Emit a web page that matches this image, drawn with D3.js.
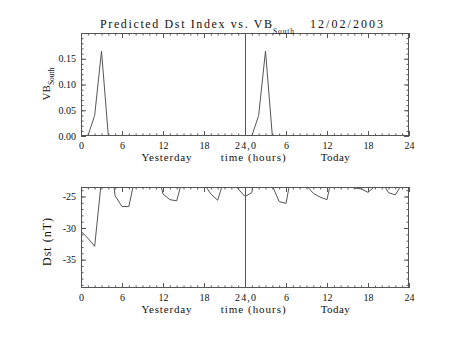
<!DOCTYPE html>
<html><head><meta charset="utf-8">
<script src="https://cdn.jsdelivr.net/npm/d3@7"></script>
<style>
html,body{margin:0;padding:0;background:#fff;}
svg text{font-family:"Liberation Serif","DejaVu Serif",serif;fill:#111;}
</style></head>
<body>
<svg id="chart" width="453" height="340"></svg>
<script>
// ---- data ----
const hours = d3.range(0, 48);
const vbSouth = [0, 0, 0.04, 0.165, 0, 0, 0, 0, 0, 0, 0, 0,
                 0, 0, 0, 0, 0, 0, 0, 0, 0, 0, 0, 0,
                 0, 0, 0.04, 0.165, 0, 0, 0, 0, 0, 0, 0, 0,
                 0, 0, 0, 0, 0, 0, 0, 0, 0, 0, 0, 0];
const dst = [-30.5, -31.6, -32.9, -22.3, -17.0, -24.9, -26.6, -26.6, -21.5, -21.0, -20.5, -20.2,
             -24.6, -25.5, -25.7, -21.7, -21.0, -22.0, -23.0, -24.6, -25.6, -22.1, -21.9, -23.8,
             -25.0, -24.4, -16.7, -18.0, -23.3, -25.8, -26.1, -20.3, -21.0, -23.3, -24.5, -25.1,
             -25.5, -20.5, -22.5, -23.45, -23.65, -23.8, -24.35, -23.4, -22.6, -24.4, -24.75, -22.96];
const xTickValues = [0, 6, 12, 18, 24, 30, 36, 42, 48];
const xTickLabels = ["0", "6", "12", "18", "24,0", "6", "12", "18", "24"];
const vbTicks = [0, 0.05, 0.10, 0.15];
const dstTicks = [-35, -30, -25];
const titleMain = "Predicted Dst Index vs. VB";
const titleSub = "South";
const titleDate = "12/02/2003";

// ---- layout ----
const svg = d3.select("#chart");
const L = 81, R = 409;
const panels = [
  {top: 33, bottom: 136, domain: [0, 0.2], ticks: vbTicks, minor: d3.range(0, 0.2001, 0.01), fmt: d3.format(".2f"), data: vbSouth, id: "c1"},
  {top: 187, bottom: 288, domain: [-39.5, -23.5], ticks: dstTicks, minor: d3.range(-39, -23, 1), fmt: d => String(d), data: dst, id: "c2"}
];
const x = d3.scaleLinear().domain([0, 48]).range([L, R]);
const stroke = "#555";

panels.forEach(p => {
  const y = d3.scaleLinear().domain(p.domain).range([p.bottom, p.top]);
  const g = svg.append("g");
  const H = p.bottom - p.top;

  svg.append("clipPath").attr("id", p.id).append("rect")
    .attr("x", L).attr("y", p.top).attr("width", R - L).attr("height", H);

  function addAxis(axis, tx, ty, labels) {
    const a = g.append("g").attr("transform", `translate(${tx},${ty})`).call(axis);
    a.select(".domain").remove();
    a.selectAll("line").attr("stroke", stroke);
    if (!labels) a.selectAll("text").remove();
    else a.selectAll("text").attr("font-size", 10).attr("fill", "#111")
      .attr("font-family", "Liberation Serif, DejaVu Serif, serif");
    return a;
  }
  // x axes (major + minor, bottom and top, ticks inward)
  const xb = addAxis(d3.axisBottom(x).tickValues(xTickValues).tickSizeInner(-5).tickSizeOuter(0).tickPadding(6)
    .tickFormat((d, i) => xTickLabels[i]), 0, p.bottom, true);
  xb.selectAll("text").filter(d => d === 24).attr("textLength", 21);
  addAxis(d3.axisBottom(x).tickValues(d3.range(0, 49)).tickSizeInner(-2.5).tickSizeOuter(0).tickFormat(""), 0, p.bottom, false);
  addAxis(d3.axisTop(x).tickValues(xTickValues).tickSizeInner(-5).tickSizeOuter(0).tickFormat(""), 0, p.top, false);
  addAxis(d3.axisTop(x).tickValues(d3.range(0, 49)).tickSizeInner(-2.5).tickSizeOuter(0).tickFormat(""), 0, p.top, false);
  // y axes
  addAxis(d3.axisLeft(y).tickValues(p.ticks).tickSizeInner(-5).tickSizeOuter(0).tickPadding(5).tickFormat(p.fmt), L, 0, true);
  addAxis(d3.axisLeft(y).tickValues(p.minor).tickSizeInner(-2.5).tickSizeOuter(0).tickFormat(""), L, 0, false);
  addAxis(d3.axisRight(y).tickValues(p.ticks).tickSizeInner(-5).tickSizeOuter(0).tickFormat(""), R, 0, false);
  addAxis(d3.axisRight(y).tickValues(p.minor).tickSizeInner(-2.5).tickSizeOuter(0).tickFormat(""), R, 0, false);

  // frame
  g.append("rect").attr("x", L + 0.5).attr("y", p.top + 0.5).attr("width", R - L - 1).attr("height", H - 1)
    .attr("fill", "none").attr("stroke", stroke).attr("stroke-width", 1);
  // day divider
  g.append("line").attr("x1", Math.round(x(24)) + 0.5).attr("x2", Math.round(x(24)) + 0.5)
    .attr("y1", p.top).attr("y2", p.bottom).attr("stroke", stroke);

  // data line
  const line = d3.line().x((d, i) => x(hours[i])).y(d => y(d));
  g.append("path").datum(p.data).attr("d", line).attr("fill", "none")
    .attr("stroke", stroke).attr("stroke-width", 1).attr("clip-path", `url(#${p.id})`);

  // bottom labels
  const rowY = p.bottom + 25;
  g.append("text").attr("x", x(12.5)).attr("y", rowY).attr("text-anchor", "middle")
    .attr("font-size", 11).attr("textLength", 50).text("Yesterday");
  g.append("text").attr("x", x(25.2)).attr("y", rowY).attr("text-anchor", "middle")
    .attr("font-size", 11).attr("textLength", 65).text("time (hours)");
  g.append("text").attr("x", x(37.2)).attr("y", rowY).attr("text-anchor", "middle")
    .attr("font-size", 11).attr("textLength", 29).text("Today");
});

// title
svg.append("text").attr("x", 100).attr("y", 27.5).attr("font-size", 12)
  .attr("textLength", 172).text(titleMain);
svg.append("text").attr("x", 273).attr("y", 33.5).attr("font-size", 7.5)
  .attr("textLength", 21).text(titleSub);
svg.append("text").attr("x", 310).attr("y", 27.5).attr("font-size", 12)
  .attr("textLength", 73).text(titleDate);

// y labels
const vbLab = svg.append("text").attr("transform", "translate(50,84) rotate(-90)")
  .attr("text-anchor", "middle").attr("font-size", 11);
vbLab.append("tspan").text("VB");
vbLab.append("tspan").attr("dy", 4).attr("font-size", 7.5).text("South");
svg.append("text").attr("transform", "translate(51,242) rotate(-90)")
  .attr("text-anchor", "middle").attr("font-size", 12).attr("textLength", 48).text("Dst (nT)");
</script>
</body></html>
